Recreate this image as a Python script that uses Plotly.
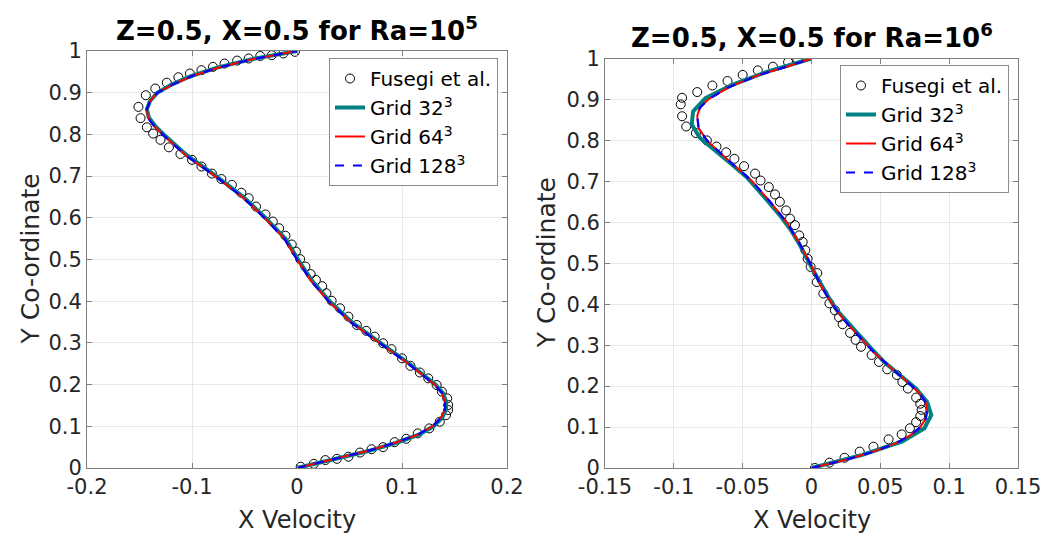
import plotly.graph_objects as go

# ---------------- data: Ra = 1e5 (left) ----------------
yL = [0, 0.02, 0.04, 0.06, 0.08, 0.10, 0.12, 0.14, 0.16, 0.18, 0.20, 0.25, 0.30, 0.35, 0.40,
      0.45, 0.50, 0.55, 0.60, 0.65, 0.70, 0.75, 0.80, 0.82, 0.84, 0.86, 0.88, 0.90, 0.92, 0.94,
      0.96, 0.98, 1.0]
u32L = [0, 0.033, 0.067, 0.094, 0.116, 0.130, 0.138, 0.142, 0.142, 0.139, 0.132, 0.107, 0.079,
        0.052, 0.031, 0.014, 0.001, -0.011, -0.030, -0.051, -0.077, -0.105, -0.127, -0.135,
        -0.141, -0.143, -0.140, -0.133, -0.119, -0.101, -0.076, -0.044, 0.0]
u64L = [0, 0.032, 0.066, 0.093, 0.115, 0.129, 0.137, 0.141, 0.141, 0.138, 0.131, 0.106, 0.078,
        0.051, 0.030, 0.013, 0.0, -0.012, -0.031, -0.052, -0.078, -0.106, -0.128, -0.136,
        -0.142, -0.143, -0.140, -0.133, -0.118, -0.100, -0.075, -0.043, 0.0]
u128L = [0, 0.032, 0.066, 0.093, 0.115, 0.129, 0.137, 0.141, 0.141, 0.138, 0.131, 0.106, 0.078,
         0.051, 0.030, 0.013, 0.0, -0.012, -0.031, -0.052, -0.078, -0.106, -0.128, -0.136,
         -0.142, -0.143, -0.140, -0.133, -0.118, -0.100, -0.075, -0.043, 0.0]

fusL_u = [0.0035, 0.016, 0.027, 0.038, 0.049, 0.060, 0.071, 0.082, 0.093, 0.104, 0.115, 0.126,
          0.136, 0.142, 0.144, 0.144, 0.143, 0.138, 0.133, 0.125, 0.117, 0.108, 0.100, 0.090,
          0.082, 0.074, 0.066, 0.057, 0.049, 0.041, 0.033, 0.028, 0.024, 0.018, 0.013, 0.008,
          0.003, -0.001, -0.005, -0.011, -0.017, -0.023, -0.030, -0.039, -0.046, -0.053, -0.062,
          -0.072, -0.081, -0.091, -0.100, -0.111, -0.122, -0.130, -0.137, -0.143, -0.149, -0.151,
          -0.144, -0.135, -0.124, -0.113, -0.102, -0.091, -0.080, -0.069, -0.057, -0.046, -0.035,
          -0.024, -0.013, -0.002]
fusL_y = [0.003, 0.010, 0.019, 0.022, 0.027, 0.037, 0.045, 0.050, 0.062, 0.070, 0.083, 0.095,
          0.111, 0.127, 0.139, 0.151, 0.167, 0.183, 0.199, 0.215, 0.229, 0.245, 0.263, 0.285,
          0.299, 0.315, 0.329, 0.343, 0.363, 0.383, 0.401, 0.419, 0.436, 0.451, 0.465, 0.483,
          0.501, 0.519, 0.536, 0.557, 0.575, 0.591, 0.608, 0.627, 0.647, 0.660, 0.679, 0.693,
          0.706, 0.723, 0.739, 0.753, 0.769, 0.787, 0.802, 0.817, 0.839, 0.866, 0.894, 0.910,
          0.924, 0.937, 0.946, 0.954, 0.962, 0.970, 0.977, 0.982, 0.988, 0.990, 0.994, 0.998]

# ---------------- data: Ra = 1e6 (right) ----------------
yR32 = [0, 0.032, 0.065, 0.097, 0.129, 0.161, 0.194, 0.226, 0.258, 0.290, 0.323, 0.355, 0.387,
        0.419, 0.452, 0.484, 0.516, 0.548, 0.581, 0.613, 0.645, 0.677, 0.710, 0.742, 0.774,
        0.806, 0.839, 0.871, 0.903, 0.935, 0.968, 1.0]
u32R = [0, 0.037, 0.066, 0.082, 0.087, 0.084, 0.076, 0.065, 0.053, 0.044, 0.035, 0.026, 0.018,
        0.012, 0.006, 0.001, -0.004, -0.009, -0.015, -0.022, -0.030, -0.038, -0.047, -0.058,
        -0.070, -0.081, -0.087, -0.086, -0.077, -0.058, -0.032, 0.0]
yR = [0, 0.02, 0.04, 0.06, 0.08, 0.10, 0.12, 0.14, 0.16, 0.18, 0.20, 0.22, 0.25, 0.28, 0.32,
      0.36, 0.40, 0.45, 0.50, 0.55, 0.60, 0.65, 0.70, 0.75, 0.80, 0.83, 0.86, 0.88, 0.90, 0.93,
      0.96, 0.98, 1.0]
u64R = [0, 0.025, 0.045, 0.061, 0.072, 0.079, 0.083, 0.084, 0.083, 0.079, 0.073, 0.066, 0.056,
        0.046, 0.035, 0.024, 0.015, 0.006, -0.001, -0.009, -0.018, -0.030, -0.043, -0.060,
        -0.076, -0.082, -0.083, -0.081, -0.075, -0.060, -0.038, -0.018, 0.0]
u128R = [0, 0.025, 0.045, 0.061, 0.072, 0.079, 0.083, 0.084, 0.083, 0.079, 0.073, 0.066, 0.056,
         0.046, 0.035, 0.024, 0.015, 0.006, -0.001, -0.009, -0.018, -0.030, -0.043, -0.060,
         -0.076, -0.082, -0.083, -0.081, -0.075, -0.060, -0.038, -0.018, 0.0]

fusR_u = [0.0025, 0.013, 0.024, 0.035, 0.045, 0.056, 0.0655, 0.0715, 0.076, 0.079, 0.080, 0.079,
          0.076, 0.070, 0.066, 0.062, 0.055, 0.049, 0.0437, 0.036, 0.032, 0.028, 0.0226, 0.020,
          0.017, 0.013, 0.0086, 0.0038, 0.0042, -0.0006, -0.0028, -0.0045, -0.0064, -0.0089,
          -0.012, -0.0156, -0.0185, -0.023, -0.0265, -0.031, -0.037, -0.041, -0.049, -0.056,
          -0.062, -0.069, -0.076, -0.084, -0.091, -0.094, -0.095, -0.094, -0.083, -0.072, -0.061,
          -0.050, -0.039, -0.028, -0.017, -0.0103]
fusR_y = [0.0, 0.013, 0.025, 0.040, 0.052, 0.070, 0.082, 0.097, 0.112, 0.127, 0.142, 0.157,
          0.172, 0.194, 0.210, 0.227, 0.241, 0.259, 0.276, 0.296, 0.313, 0.330, 0.351, 0.368,
          0.385, 0.402, 0.426, 0.454, 0.476, 0.491, 0.511, 0.532, 0.552, 0.568, 0.593, 0.609,
          0.629, 0.650, 0.668, 0.686, 0.702, 0.719, 0.737, 0.755, 0.771, 0.785, 0.800, 0.818,
          0.834, 0.859, 0.888, 0.904, 0.918, 0.934, 0.945, 0.960, 0.971, 0.980, 0.991, 0.999]

# ---------------- ticks / text ----------------
xticksL = [-0.2, -0.1, 0, 0.1, 0.2]
xlabelsL = ["-0.2", "-0.1", "0", "0.1", "0.2"]
xticksR = [-0.15, -0.1, -0.05, 0, 0.05, 0.1, 0.15]
xlabelsR = ["-0.15", "-0.1", "-0.05", "0", "0.05", "0.1", "0.15"]
yticks = [0, 0.1, 0.2, 0.3, 0.4, 0.5, 0.6, 0.7, 0.8, 0.9, 1.0]
ylabels = ["0", "0.1", "0.2", "0.3", "0.4", "0.5", "0.6", "0.7", "0.8", "0.9", "1"]
titleL = "<b>Z=0.5, X=0.5 for Ra=10<sup>5</sup></b>"
titleR = "<b>Z=0.5, X=0.5 for Ra=10<sup>6</sup></b>"
xtitle = "X Velocity"
ytitle = "Y Co-ordinate"
names = ["Fusegi et al.", "Grid 32<sup>3</sup>", "Grid 64<sup>3</sup>", "Grid 128<sup>3</sup>"]

W, H = 1044, 536
FONT = "DejaVu Sans"
TEAL = "rgb(0,128,128)"
TXT = "#262626"


def px(x):
    return x / W


def py(y):
    return 1 - y / H


fig = go.Figure()


def add_set(xa, ya, leg, fu, fy, y32, u32, y64, u64, y128, u128):
    fig.add_trace(go.Scatter(x=fu, y=fy, mode="markers", name=names[0], xaxis=xa, yaxis=ya,
                             legend=leg,
                             marker=dict(symbol="circle-open", size=9, color="black",
                                         line=dict(width=1, color="black"))))
    fig.add_trace(go.Scatter(x=u32, y=y32, mode="lines", name=names[1], xaxis=xa, yaxis=ya,
                             legend=leg, line=dict(color=TEAL, width=4)))
    fig.add_trace(go.Scatter(x=u64, y=y64, mode="lines", name=names[2], xaxis=xa, yaxis=ya,
                             legend=leg, line=dict(color="red", width=2)))
    fig.add_trace(go.Scatter(x=u128, y=y128, mode="lines", name=names[3], xaxis=xa, yaxis=ya,
                             legend=leg, line=dict(color="blue", width=2.2, dash="dash")))


add_set("x", "y", "legend", fusL_u, fusL_y, yL, u32L, yL, u64L, yL, u128L)
add_set("x2", "y2", "legend2", fusR_u, fusR_y, yR32, u32R, yR, u64R, yR, u128R)

axis_common = dict(showline=True, linecolor="#7f7f7f", linewidth=1, mirror="ticks",
                   ticks="inside", ticklen=5, tickcolor="#7f7f7f", showgrid=True,
                   gridcolor="#e8e8e8", gridwidth=1, zeroline=False, automargin=False,
                   tickfont=dict(family=FONT, size=21, color=TXT))

L_left, L_right, R_left, R_right = 87, 507, 605, 1018
yL_top, yR_top, y_bot = 51, 58.5, 468

fig.update_layout(
    width=W, height=H, margin=dict(l=0, r=0, t=0, b=0, autoexpand=False),
    paper_bgcolor="white", plot_bgcolor="white",
    font=dict(family=FONT, color=TXT),
    xaxis=dict(domain=[px(L_left), px(L_right)], range=[-0.2, 0.2], tickvals=xticksL,
               ticktext=xlabelsL, anchor="y", **axis_common),
    yaxis=dict(domain=[py(y_bot), py(yL_top)], range=[0, 1], tickvals=yticks, ticktext=ylabels,
               anchor="x", **axis_common),
    xaxis2=dict(domain=[px(R_left), px(R_right)], range=[-0.15, 0.15], tickvals=xticksR,
                ticktext=xlabelsR, anchor="y2", **axis_common),
    yaxis2=dict(domain=[py(y_bot), py(yR_top)], range=[0, 1], tickvals=yticks,
                ticktext=ylabels, anchor="x2", **axis_common),
    legend=dict(x=px(498), y=py(58), xanchor="right", yanchor="top", bgcolor="white",
                bordercolor="#8c8c8c", borderwidth=1, tracegroupgap=0,
                font=dict(family=FONT, size=20, color="black")),
    legend2=dict(x=px(1009), y=py(65), xanchor="right", yanchor="top", bgcolor="white",
                 bordercolor="#8c8c8c", borderwidth=1, tracegroupgap=0,
                 font=dict(family=FONT, size=20, color="black")),
    showlegend=True,
)

ann = [
    dict(text=titleL, x=px((L_left + L_right) / 2), y=py(yL_top), yanchor="bottom", yshift=3,
         font=dict(family=FONT, size=26, color="black")),
    dict(text=titleR, x=px((R_left + R_right) / 2), y=py(yR_top), yanchor="bottom", yshift=3,
         font=dict(family=FONT, size=26, color="black")),
    dict(text=xtitle, x=px((L_left + L_right) / 2), y=py(520), yanchor="middle",
         font=dict(family=FONT, size=24, color=TXT)),
    dict(text=xtitle, x=px((R_left + R_right) / 2), y=py(520), yanchor="middle",
         font=dict(family=FONT, size=24, color=TXT)),
    dict(text=ytitle, x=px(30), y=py((yL_top + y_bot) / 2), yanchor="middle", textangle=-90,
         font=dict(family=FONT, size=25, color=TXT)),
    dict(text=ytitle, x=px(546), y=py((yR_top + y_bot) / 2), yanchor="middle", textangle=-90,
         font=dict(family=FONT, size=25, color=TXT)),
]
for a in ann:
    a.update(xref="paper", yref="paper", xanchor="center", showarrow=False)
    fig.add_annotation(**a)

fig.write_html("out.html")
